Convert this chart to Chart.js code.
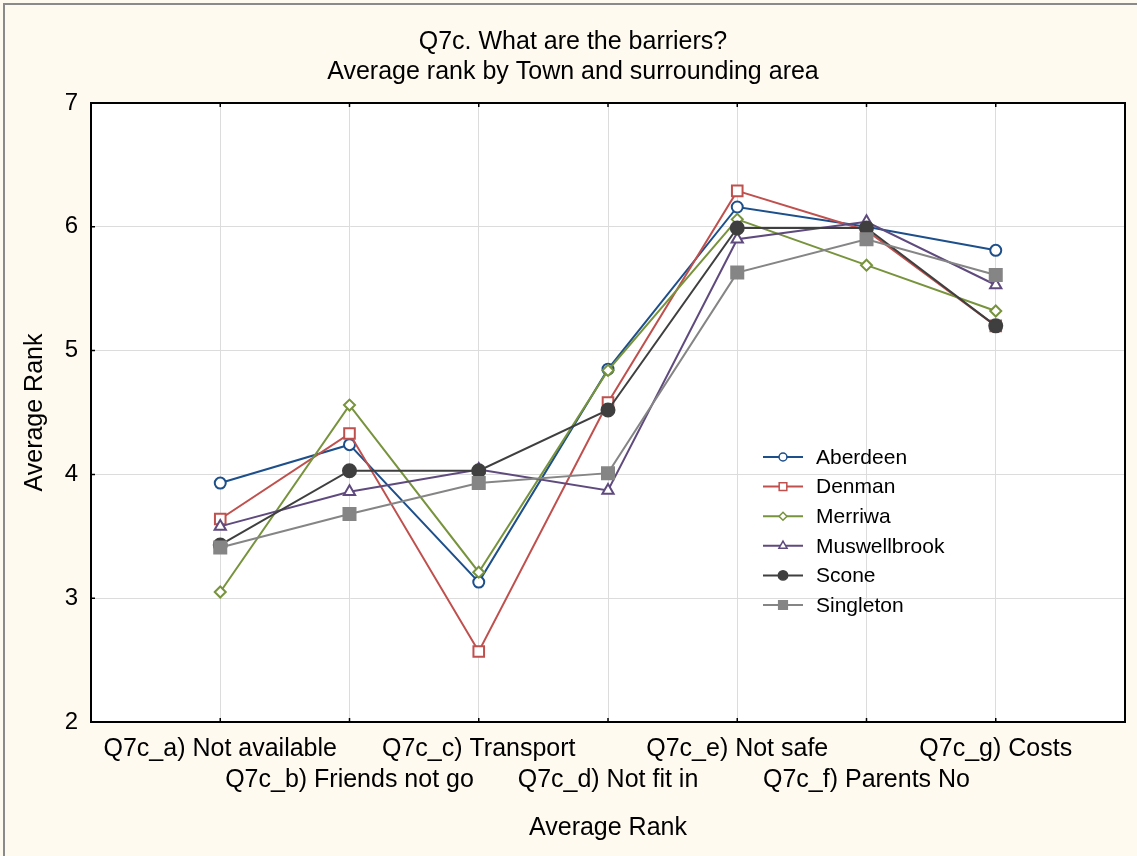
<!DOCTYPE html>
<html>
<head>
<meta charset="utf-8">
<script src="https://cdn.jsdelivr.net/npm/chart.js@4/dist/chart.umd.min.js"></script>
<style>
  html, body { margin: 0; padding: 0; background: #fffaf0; }
  canvas { display: block; }
</style>
</head>
<body>
<canvas id="c" width="1137" height="856"></canvas>
<script>
// ---- data ----
const categories = [
  'Q7c_a) Not available',
  'Q7c_b) Friends not go',
  'Q7c_c) Transport',
  'Q7c_d) Not fit in',
  'Q7c_e) Not safe',
  'Q7c_f) Parents No',
  'Q7c_g) Costs'
];
const seriesNames = ['Aberdeen', 'Denman', 'Merriwa', 'Muswellbrook', 'Scone', 'Singleton'];
const aberdeen     = [3.93, 4.24, 3.13, 4.85, 6.16, 6.00, 5.81];
const denman       = [3.64, 4.33, 2.57, 4.58, 6.29, 5.97, 5.20];
const merriwa      = [3.05, 4.56, 3.21, 4.84, 6.06, 5.69, 5.32];
const muswellbrook = [3.58, 3.86, 4.04, 3.87, 5.90, 6.04, 5.53];
const scone        = [3.43, 4.03, 4.03, 4.52, 5.99, 5.99, 5.20];
const singleton    = [3.41, 3.68, 3.93, 4.01, 5.63, 5.90, 5.61];
const yTicks = [2, 3, 4, 5, 6, 7];
const titleLines = ['Q7c. What are the barriers?', 'Average rank by Town and surrounding area'];
const xAxisTitle = 'Average Rank';
const yAxisTitle = 'Average Rank';

// ---- styles ----
const FONT = "'Liberation Sans', Arial, Helvetica, sans-serif";
const styles = [
  { color: '#1d4f8b', point: 'circle',   fill: '#ffffff', r: 5.5 },
  { color: '#c0504d', point: 'rect',     fill: '#ffffff', r: 7.5 },
  { color: '#77933c', point: 'rectRot',  fill: '#ffffff', r: 5.5 },
  { color: '#5f4a7e', point: 'triangle', fill: '#ffffff', r: 6.5 },
  { color: '#3f3f3f', point: 'circle',   fill: '#3f3f3f', r: 6.5 },
  { color: '#858585', point: 'rect',     fill: '#858585', r: 8.5 }
];
const allSeries = [aberdeen, denman, merriwa, muswellbrook, scone, singleton];

const datasets = allSeries.map((vals, i) => ({
  label: seriesNames[i],
  data: vals.map((v, k) => ({ x: k, y: v })),
  borderColor: styles[i].color,
  backgroundColor: styles[i].fill,
  pointBackgroundColor: styles[i].fill,
  pointBorderColor: styles[i].color,
  pointStyle: styles[i].point,
  pointRadius: styles[i].r,
  pointBorderWidth: 2,
  borderWidth: 2,
  tension: 0,
  order: allSeries.length - i
}));

const framePlugin = {
  id: 'frame',
  beforeDraw(chart) {
    const ctx = chart.ctx, a = chart.chartArea;
    ctx.save();
    ctx.fillStyle = '#fffaf0';
    ctx.fillRect(0, 0, chart.width, chart.height);
    ctx.strokeStyle = '#8a8a8a';
    ctx.lineWidth = 2;
    ctx.strokeRect(4, 4, chart.width + 10, chart.height + 10);
    ctx.fillStyle = '#ffffff';
    ctx.fillRect(a.left, a.top, a.right - a.left, a.bottom - a.top);
    // main title
    ctx.fillStyle = '#000';
    ctx.font = '25px ' + FONT;
    ctx.textAlign = 'center';
    ctx.textBaseline = 'middle';
    titleLines.forEach((t, i) => ctx.fillText(t, 573, 42 + i * 30));
    ctx.restore();
  },
  afterDraw(chart) {
    const ctx = chart.ctx, a = chart.chartArea;
    const xs = chart.scales.x, ys = chart.scales.y;
    ctx.save();
    // top and right border
    ctx.strokeStyle = '#000';
    ctx.lineWidth = 2;
    ctx.beginPath();
    ctx.moveTo(a.left, a.top); ctx.lineTo(a.right, a.top); ctx.lineTo(a.right, a.bottom);
    ctx.stroke();
    // inward ticks
    ctx.lineWidth = 1.5;
    ctx.beginPath();
    xs.ticks.forEach(t => {
      const px = xs.getPixelForValue(t.value);
      ctx.moveTo(px, a.top); ctx.lineTo(px, a.top + 4);
      ctx.moveTo(px, a.bottom); ctx.lineTo(px, a.bottom - 4);
    });
    ys.ticks.forEach(t => {
      const py = ys.getPixelForValue(t.value);
      ctx.moveTo(a.left, py); ctx.lineTo(a.left + 4, py);
    });
    ctx.stroke();

    // axis titles
    ctx.fillStyle = '#000';
    ctx.font = '25px ' + FONT;
    ctx.textAlign = 'center';
    ctx.textBaseline = 'middle';
    ctx.fillText(xAxisTitle, (a.left + a.right) / 2, 828);
    ctx.save();
    ctx.translate(35, (a.top + a.bottom) / 2);
    ctx.rotate(-Math.PI / 2);
    ctx.fillText(yAxisTitle, 0, 0);
    ctx.restore();

    // legend inside plot
    const lx = a.left + 672, ly = 457, step = 29.6;
    ctx.font = '21px ' + FONT;
    ctx.textAlign = 'left';
    chart.data.datasets.forEach((ds, i) => {
      const y = ly + i * step;
      ctx.strokeStyle = ds.borderColor;
      ctx.lineWidth = 2;
      ctx.beginPath();
      ctx.moveTo(lx, y); ctx.lineTo(lx + 40, y);
      ctx.stroke();
      ctx.fillStyle = ds.pointBackgroundColor;
      ctx.strokeStyle = ds.pointBorderColor;
      ctx.lineWidth = 1.5;
      Chart.helpers.drawPoint(ctx, { pointStyle: ds.pointStyle, radius: ds.pointRadius * 0.72, rotation: 0, borderWidth: 1.5 }, lx + 20, y);
      ctx.fillStyle = '#000';
      ctx.fillText(ds.label, lx + 53, y + 1);
    });
    ctx.restore();
  }
};

new Chart(document.getElementById('c'), {
  type: 'line',
  data: { datasets },
  options: {
    responsive: false,
    animation: false,
    devicePixelRatio: 1,
    layout: { padding: { top: 103, right: 12, left: 0, bottom: 0 } },
    plugins: {
      legend: { display: false },
      tooltip: { enabled: false },
      title: { display: false }
    },
    scales: {
      x: {
        type: 'linear',
        min: -1,
        max: 7,
        afterBuildTicks(scale) {
          scale.ticks = categories.map((c, i) => ({ value: i }));
        },
        afterFit(scale) { scale.height = 134; },
        ticks: {
          autoSkip: false,
          maxRotation: 0,
          minRotation: 0,
          padding: 11,
          color: '#000',
          font: { family: FONT, size: 25, lineHeight: 1.25 },
          callback(value) {
            const i = Math.round(value);
            if (i < 0 || i >= categories.length) return '';
            return i % 2 === 0 ? [categories[i]] : ['', categories[i]];
          }
        },
        grid: { color: '#dcdcdc', lineWidth: 1, drawTicks: false },
        border: { color: '#000', width: 2 }
      },
      y: {
        min: 2,
        max: 7,
        afterBuildTicks(scale) {
          scale.ticks = yTicks.map(v => ({ value: v }));
        },
        afterFit(scale) { scale.width = 91; },
        ticks: {
          padding: 13,
          color: '#000',
          font: { family: FONT, size: 24 }
        },
        grid: { color: '#dcdcdc', lineWidth: 1, drawTicks: false },
        border: { color: '#000', width: 2 }
      }
    }
  },
  plugins: [framePlugin]
});
</script>
</body>
</html>
